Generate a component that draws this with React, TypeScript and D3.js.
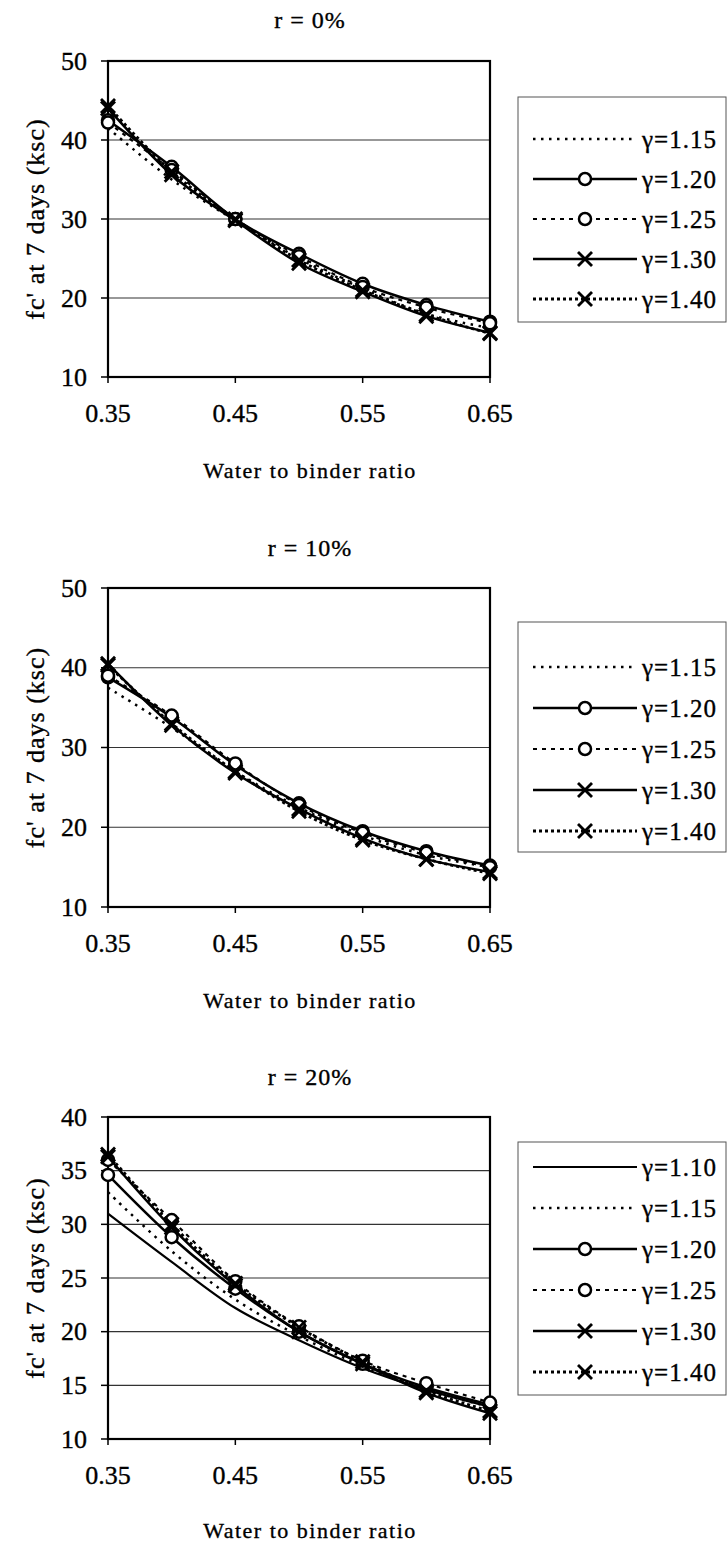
import React from "react";
import * as d3 from "d3";

// ---------- data ----------
const waterBinder = [0.35, 0.4, 0.45, 0.5, 0.55, 0.6, 0.65];
const xTickValues = [0.35, 0.45, 0.55, 0.65];

const gammaLabels = ["γ=1.10", "γ=1.15", "γ=1.20", "γ=1.25", "γ=1.30", "γ=1.40"];

// r = 0%
const r0_g115 = [41.5, 35.0, 29.8, 25.0, 21.2, 18.0, 16.2];
const r0_g120 = [42.5, 36.6, 30.0, 25.6, 21.8, 19.1, 17.0];
const r0_g125 = [42.2, 36.2, 30.0, 25.3, 21.4, 18.8, 16.8];
const r0_g130 = [44.0, 35.6, 29.8, 24.4, 20.8, 17.7, 15.6];
const r0_g140 = [44.3, 36.0, 30.0, 24.8, 21.0, 17.9, 15.5];

// r = 10%
const r10_g115 = [37.5, 32.5, 27.0, 22.5, 19.0, 16.5, 15.0];
const r10_g120 = [38.8, 33.8, 27.8, 23.0, 19.5, 17.0, 15.2];
const r10_g125 = [39.0, 34.0, 28.0, 22.8, 19.3, 16.8, 15.0];
const r10_g130 = [40.5, 32.8, 26.8, 22.3, 18.6, 16.0, 14.4];
const r10_g140 = [40.3, 33.0, 27.0, 22.0, 18.4, 16.0, 14.2];

// r = 20%
const r20_g110 = [31.0, 26.5, 22.2, 19.2, 16.6, 14.6, 13.0];
const r20_g115 = [33.0, 27.5, 23.0, 19.6, 16.8, 14.6, 13.0];
const r20_g120 = [34.6, 28.8, 24.0, 20.0, 17.0, 14.8, 13.2];
const r20_g125 = [36.0, 30.4, 24.7, 20.5, 17.3, 15.2, 13.4];
const r20_g130 = [36.3, 29.7, 24.3, 20.0, 17.0, 14.3, 12.4];
const r20_g140 = [36.5, 30.0, 24.5, 20.4, 17.2, 14.5, 12.6];

const yTicks50 = [10, 20, 30, 40, 50];
const yTicks40 = [10, 15, 20, 25, 30, 35, 40];

// ---------- styles ----------
type Style = { dash: string | null; width: number; marker: "none" | "circle" | "x" };
const styles: Record<string, Style> = {
  "γ=1.10": { dash: null, width: 2.2, marker: "none" },
  "γ=1.15": { dash: "2.5,5.5", width: 2.5, marker: "none" },
  "γ=1.20": { dash: null, width: 2.5, marker: "circle" },
  "γ=1.25": { dash: "4,5", width: 2.2, marker: "circle" },
  "γ=1.30": { dash: null, width: 2.5, marker: "x" },
  "γ=1.40": { dash: "3,3", width: 2.8, marker: "x" },
};

const charts = [
  {
    title: "r = 0%",
    yTicks: yTicks50,
    series: [
      { name: gammaLabels[1], values: r0_g115 },
      { name: gammaLabels[2], values: r0_g120 },
      { name: gammaLabels[3], values: r0_g125 },
      { name: gammaLabels[4], values: r0_g130 },
      { name: gammaLabels[5], values: r0_g140 },
    ],
    layout: { titleY: 20, top: 61, bottom: 377, xTitleY: 470, legTop: 97, legBottom: 322, legFirst: 139, legStep: 40 },
  },
  {
    title: "r = 10%",
    yTicks: yTicks50,
    series: [
      { name: gammaLabels[1], values: r10_g115 },
      { name: gammaLabels[2], values: r10_g120 },
      { name: gammaLabels[3], values: r10_g125 },
      { name: gammaLabels[4], values: r10_g130 },
      { name: gammaLabels[5], values: r10_g140 },
    ],
    layout: { titleY: 548, top: 588, bottom: 907, xTitleY: 1000, legTop: 622, legBottom: 852, legFirst: 667, legStep: 41 },
  },
  {
    title: "r = 20%",
    yTicks: yTicks40,
    series: [
      { name: gammaLabels[0], values: r20_g110 },
      { name: gammaLabels[1], values: r20_g115 },
      { name: gammaLabels[2], values: r20_g120 },
      { name: gammaLabels[3], values: r20_g125 },
      { name: gammaLabels[4], values: r20_g130 },
      { name: gammaLabels[5], values: r20_g140 },
    ],
    layout: { titleY: 1077, top: 1117, bottom: 1439, xTitleY: 1530, legTop: 1142, legBottom: 1395, legFirst: 1167, legStep: 41 },
  },
];

const FONT = "'Liberation Serif', 'Times New Roman', serif";
const PLOT_LEFT = 108;
const PLOT_RIGHT = 490;
const TXT = { fill: "black", stroke: "black", strokeWidth: 0.35 };

function Marker({ type, x, y }: { type: string; x: number; y: number }) {
  if (type === "circle")
    return <circle cx={x} cy={y} r={6} fill="white" stroke="black" strokeWidth={2.5} />;
  if (type === "x")
    return (
      <g stroke="black" strokeWidth={2.8}>
        <line x1={x - 7} y1={y - 7} x2={x + 7} y2={y + 7} />
        <line x1={x - 7} y1={y + 7} x2={x + 7} y2={y - 7} />
      </g>
    );
  return null;
}

function Chart({ chart }: { chart: (typeof charts)[number] }) {
  const L = chart.layout;
  const x = d3.scaleLinear().domain([0.35, 0.65]).range([PLOT_LEFT, PLOT_RIGHT]);
  const yMin = d3.min(chart.yTicks) as number;
  const yMax = d3.max(chart.yTicks) as number;
  const y = d3.scaleLinear().domain([yMin, yMax]).range([L.bottom, L.top]);
  const line = d3
    .line<number>()
    .x((_, i) => x(waterBinder[i]))
    .y((d) => y(d))
    .curve(d3.curveCardinal.tension(0));
  const midY = (L.top + L.bottom) / 2;

  return (
    <g>
      <text x={310} y={L.titleY} fontSize={24} fontFamily={FONT} textAnchor="middle" dominantBaseline="central" letterSpacing={1} {...TXT}>
        {chart.title}
      </text>
      {chart.yTicks
        .filter((t) => t !== yMin && t !== yMax)
        .map((t) => (
          <line key={t} x1={PLOT_LEFT} x2={PLOT_RIGHT} y1={y(t)} y2={y(t)} stroke="#333" strokeWidth={1.2} />
        ))}
      <rect x={PLOT_LEFT} y={L.top} width={PLOT_RIGHT - PLOT_LEFT} height={L.bottom - L.top} fill="none" stroke="black" strokeWidth={2.2} />
      {chart.yTicks.map((t) => (
        <g key={t}>
          <line x1={PLOT_LEFT - 7} x2={PLOT_LEFT} y1={y(t)} y2={y(t)} stroke="black" strokeWidth={1.5} />
          <text x={87} y={y(t)} fontSize={26} fontFamily={FONT} textAnchor="end" dominantBaseline="central" {...TXT}>
            {t}
          </text>
        </g>
      ))}
      {xTickValues.map((t) => (
        <g key={t}>
          <line x1={x(t)} x2={x(t)} y1={L.bottom} y2={L.bottom + 6} stroke="black" strokeWidth={1.5} />
          <text x={x(t)} y={L.bottom + 36} fontSize={26} fontFamily={FONT} textAnchor="middle" dominantBaseline="central" {...TXT}>
            {t.toFixed(2)}
          </text>
        </g>
      ))}
      <text x={310} y={L.xTitleY} fontSize={22} fontFamily={FONT} textAnchor="middle" dominantBaseline="central" letterSpacing={1.5} {...TXT}>
        Water to binder ratio
      </text>
      <text
        transform={`translate(35,${midY}) rotate(-90)`}
        fontSize={26}
        fontFamily={FONT}
        textAnchor="middle"
        dominantBaseline="central"
        letterSpacing={1}
        {...TXT}
      >
        fc' at 7 days (ksc)
      </text>
      {chart.series.map((s) => {
        const st = styles[s.name];
        return (
          <g key={s.name}>
            <path d={line(s.values) || ""} fill="none" stroke="black" strokeWidth={st.width} strokeDasharray={st.dash || undefined} />
            {s.values.map((v, i) => (
              <Marker key={i} type={st.marker} x={x(waterBinder[i])} y={y(v)} />
            ))}
          </g>
        );
      })}
      <rect x={518} y={L.legTop} width={208} height={L.legBottom - L.legTop} fill="white" stroke="#555" strokeWidth={1} />
      {chart.series.map((s, i) => {
        const st = styles[s.name];
        const ly = L.legFirst + i * L.legStep;
        return (
          <g key={s.name}>
            <line x1={533} x2={637} y1={ly} y2={ly} stroke="black" strokeWidth={st.width} strokeDasharray={st.dash || undefined} />
            <Marker type={st.marker} x={585} y={ly} />
            <text x={642} y={ly} fontSize={25} fontFamily={FONT} dominantBaseline="central" letterSpacing={1} {...TXT}>
              {s.name}
            </text>
          </g>
        );
      })}
    </g>
  );
}

export default function App() {
  return (
    <div style={{ position: "absolute", left: 0, top: 0 }}>
      <svg width={728} height={1542} style={{ display: "block", background: "white" }}>
        <rect width={728} height={1542} fill="white" />
        {charts.map((c) => (
          <Chart key={c.title} chart={c} />
        ))}
      </svg>
    </div>
  );
}
